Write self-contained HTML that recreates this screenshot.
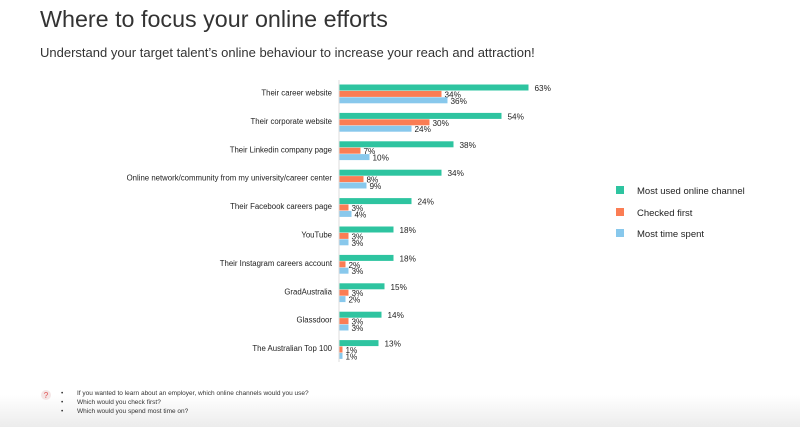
<!DOCTYPE html>
<html><head><meta charset="utf-8"><style>
body{margin:0;width:800px;height:427px;background:#fff;overflow:hidden;font-family:"Liberation Sans",sans-serif}
</style></head><body>
<svg width="800" height="427" xmlns="http://www.w3.org/2000/svg" font-family="Liberation Sans, sans-serif">
<defs><linearGradient id="g" x1="0" y1="0" x2="0" y2="1"><stop offset="0" stop-color="#fff"/><stop offset="1" stop-color="#ececec"/></linearGradient></defs>
<rect x="0" y="395" width="800" height="32" fill="url(#g)"/>
<text x="40" y="27" font-size="23.3" fill="#333">Where to focus your online efforts</text>
<text x="40" y="57" font-size="13" fill="#333">Understand your target talent’s online behaviour to increase your reach and attraction!</text>
<line x1="339" y1="80" x2="339" y2="362" stroke="#ddd" stroke-width="1"/>
<g id="bars" font-size="8.2" fill="#222"></g>
<g font-size="9.5" fill="#222">
<rect x="616" y="186" width="8" height="8" fill="#2ec4a0"/><text x="637" y="194">Most used online channel</text>
<rect x="616" y="208" width="8" height="8" fill="#fb7d54"/><text x="637" y="216">Checked first</text>
<rect x="616" y="229" width="8" height="8" fill="#88c8ec"/><text x="637" y="237">Most time spent</text>
</g>
<circle cx="46" cy="395" r="5" fill="#f4e6e6"/><text x="46" y="398" font-size="8" fill="#e05050" text-anchor="middle">?</text>
<g font-size="6.5" fill="#333">
<text x="61" y="395">•</text><text x="77" y="395">If you wanted to learn about an employer, which online channels would you use?</text>
<text x="61" y="404">•</text><text x="77" y="404">Which would you check first?</text>
<text x="61" y="413">•</text><text x="77" y="413">Which would you spend most time on?</text>
</g>
</svg>
<script>
var d=[["Their career website",63,34,36],["Their corporate website",54,30,24],["Their Linkedin company page",38,7,10],["Online network/community from my university/career center",34,8,9],["Their Facebook careers page",24,3,4],["YouTube",18,3,3],["Their Instagram careers account",18,2,3],["GradAustralia",15,3,2],["Glassdoor",14,3,3],["The Australian Top 100",13,1,1]];
var c=["#2ec4a0","#fb7d54","#88c8ec"],s="";
d.forEach(function(r,i){var y=84.5+i*28.4;
s+='<text x="332" y="'+(y+11)+'" text-anchor="end" font-size="7.8">'+r[0]+'</text>';
for(var k=0;k<3;k++){var w=r[k+1]*3,yy=y+k*6.4;
s+='<rect x="339.5" y="'+yy+'" width="'+w+'" height="6" fill="'+c[k]+'"/>';
s+='<text x="'+(339.5+w+(k==0?6:3))+'" y="'+(yy+6.5)+'">'+r[k+1]+'%</text>';}
});
document.getElementById("bars").innerHTML=s;
</script>
</body></html>
